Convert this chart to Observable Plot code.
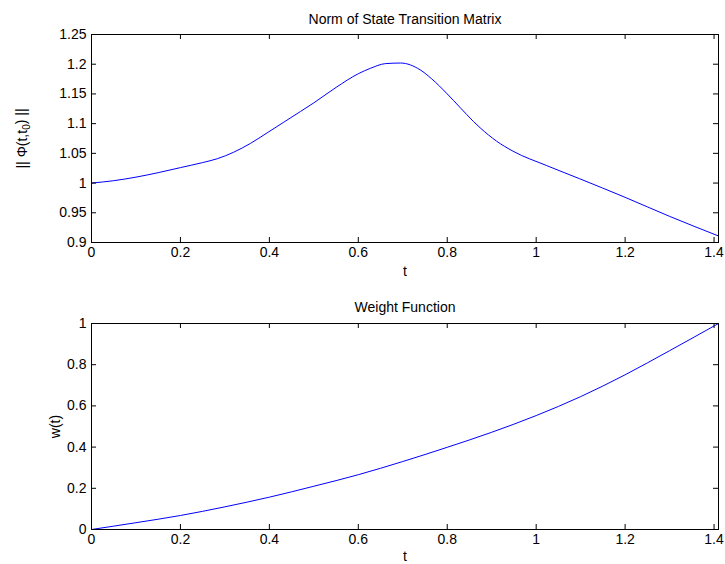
<!DOCTYPE html>
<html><head><meta charset="utf-8">
<script src="https://cdn.jsdelivr.net/npm/d3@7"></script>
<script src="https://cdn.jsdelivr.net/npm/@observablehq/plot@0.6"></script>
<style>
body{margin:0;background:#fff}
#chart svg{display:block}
</style>
</head><body><div id="chart"></div>
<script>
// ---- data ----
const normT   = [0, 0.05, 0.1, 0.15, 0.2, 0.25, 0.283, 0.32, 0.358, 0.395, 0.4325, 0.47, 0.5, 0.55, 0.6, 0.627, 0.661, 0.695, 0.739, 0.765, 0.8, 0.814, 0.874, 0.911, 0.948, 1.023, 1.098, 1.2, 1.3, 1.41];
const normVal = [1.000, 1.004, 1.010, 1.0175, 1.026, 1.0345, 1.041, 1.052, 1.067, 1.0845, 1.1025, 1.1205, 1.135, 1.161, 1.184, 1.193, 1.201, 1.202, 1.1906, 1.1754, 1.150, 1.139, 1.093, 1.0705, 1.0536, 1.0296, 1.0072, 0.976, 0.944, 0.911];
const weightT   = [0, 0.1, 0.2, 0.3, 0.4, 0.5, 0.6, 0.7, 0.8, 0.9, 1.0, 1.1, 1.2, 1.3, 1.41];
const weightVal = [0, 0.033, 0.068, 0.110, 0.157, 0.210, 0.266, 0.330, 0.399, 0.472, 0.553, 0.645, 0.751, 0.868, 1.0];
const xTicks = [0, 0.2, 0.4, 0.6, 0.8, 1, 1.2, 1.4];
const normTicks = [0.9, 0.95, 1, 1.05, 1.1, 1.15, 1.2, 1.25];
const weightTicks = [0, 0.2, 0.4, 0.6, 0.8, 1];
const titles = ["Norm of State Transition Matrix", "Weight Function"];
const yLabels = ["|| Φ(t,t0) ||", "w(t)"];
const xLabel = "t";
const xDomain = [0, 1.41];

// ---- drawing ----
const W = 725, ML = 91, MR = 7;
const fmt = d => String(Math.round(d * 100) / 100);

function panel({t, v, yTicks, yDomain, title, yLabel, mt, mb, height, titleDy, yLabelDx, xLabelDy}) {
  const data = t.map((d, i) => ({t: d, v: v[i]}));
  const fw = W - ML - MR, fh = height - mt - mb;
  return Plot.plot({
    width: W, height,
    marginLeft: ML, marginRight: MR, marginTop: mt, marginBottom: mb,
    style: {fontFamily: "'Liberation Sans', Arial, Helvetica, sans-serif", fontSize: "14px", color: "#000", background: "#fff"},
    x: {domain: xDomain, label: null},
    y: {domain: yDomain, label: null},
    marks: [
      Plot.line(data, {x: "t", y: "v", stroke: "#0000ff", strokeWidth: 1, curve: "monotone-x"}),
      Plot.tickX(xTicks, {x: d => d, insetTop: fh - 5, stroke: "#000"}),
      Plot.tickX(xTicks, {x: d => d, insetBottom: fh - 5, stroke: "#000"}),
      Plot.tickY(yTicks, {y: d => d, insetRight: fw - 5, stroke: "#000"}),
      Plot.tickY(yTicks, {y: d => d, insetLeft: fw - 5, stroke: "#000"}),
      Plot.frame({stroke: "#000", strokeWidth: 1}),
      Plot.axisX(xTicks, {tickSize: 0, tickPadding: 5, tickFormat: fmt, label: null}),
      Plot.axisY(yTicks, {tickSize: 0, tickPadding: 5, tickFormat: fmt, label: null}),
      Plot.text([title], {frameAnchor: "top", dy: titleDy, lineAnchor: "middle", text: d => d}),
      Plot.text([xLabel], {frameAnchor: "bottom", dy: xLabelDy, lineAnchor: "middle", text: d => d}),
      Plot.text([yLabel], {frameAnchor: "left", dx: yLabelDx, rotate: -90, textAnchor: "middle", lineAnchor: "middle", text: d => d})
    ]
  });
}

const chart = document.getElementById("chart");
chart.append(panel({
  t: normT, v: normVal, yTicks: normTicks, yDomain: [0.9, 1.25],
  title: titles[0], yLabel: yLabels[0], mt: 34, mb: 40, height: 282,
  titleDy: -15, yLabelDx: -69, xLabelDy: 29
}));
chart.append(panel({
  t: weightT, v: weightVal, yTicks: weightTicks, yDomain: [0, 1],
  title: titles[1], yLabel: yLabels[1], mt: 41, mb: 35, height: 282,
  titleDy: -16, yLabelDx: -36, xLabelDy: 27
}));

// render the "0" in the first y label as a subscript
d3.select(chart).selectAll("text").each(function () {
  if (this.textContent === yLabels[0]) {
    const s = yLabels[0];
    const i = s.lastIndexOf("0");
    const el = d3.select(this);
    el.text(null);
    el.append("tspan").text(s.slice(0, i));
    el.append("tspan").attr("dy", "0.35em").attr("font-size", "10px").text(s[i]);
    el.append("tspan").attr("dy", "-0.35em").text(s.slice(i + 1));
  }
});
</script>
</body></html>
